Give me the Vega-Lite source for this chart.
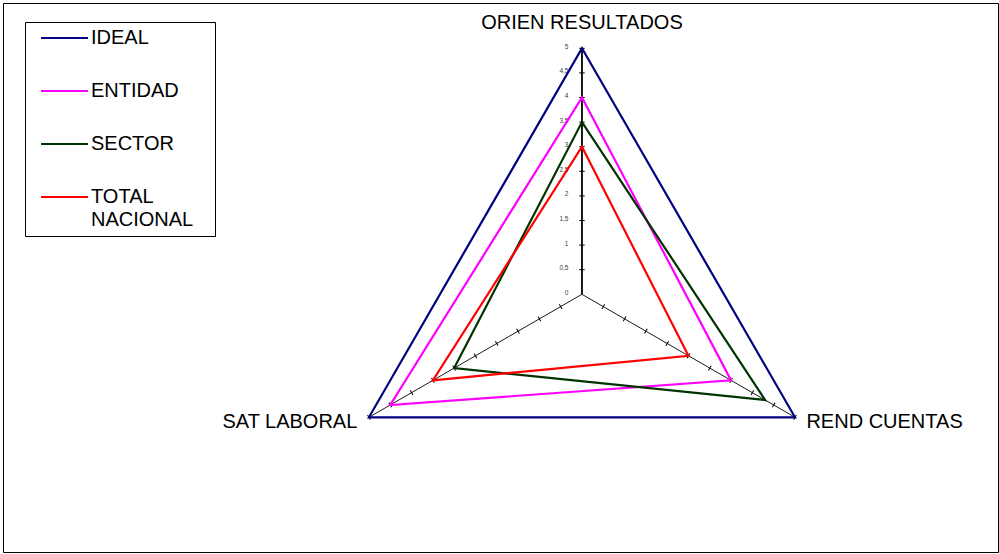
{
  "$schema": "https://vega.github.io/schema/vega-lite/v6.json",
  "width": 995,
  "height": 549,
  "autosize": {"type": "none"},
  "padding": {"left": 3, "top": 3, "right": 1, "bottom": 2},
  "background": "white",
  "config": {
    "view": {"stroke": "#000000", "strokeWidth": 1},
    "font": "Liberation Sans",
    "locale": {"number": {"decimal": ",", "thousands": ".", "grouping": [3], "currency": ["", " €"]}},
    "style": {"guide-label": {"lineHeight": 23}}
  },
  "datasets": {
    "scores": [
      {"series": "IDEAL", "axis": "ORIEN RESULTADOS", "value": 5},
      {"series": "IDEAL", "axis": "REND CUENTAS", "value": 5},
      {"series": "IDEAL", "axis": "SAT LABORAL", "value": 5},
      {"series": "ENTIDAD", "axis": "ORIEN RESULTADOS", "value": 4},
      {"series": "ENTIDAD", "axis": "REND CUENTAS", "value": 3.5},
      {"series": "ENTIDAD", "axis": "SAT LABORAL", "value": 4.5},
      {"series": "SECTOR", "axis": "ORIEN RESULTADOS", "value": 3.5},
      {"series": "SECTOR", "axis": "REND CUENTAS", "value": 4.3},
      {"series": "SECTOR", "axis": "SAT LABORAL", "value": 3},
      {"series": "TOTAL NACIONAL", "axis": "ORIEN RESULTADOS", "value": 3},
      {"series": "TOTAL NACIONAL", "axis": "REND CUENTAS", "value": 2.5},
      {"series": "TOTAL NACIONAL", "axis": "SAT LABORAL", "value": 3.5}
    ],
    "spokes": [
      {"axis": "ORIEN RESULTADOS", "value": 5},
      {"axis": "REND CUENTAS", "value": 5},
      {"axis": "SAT LABORAL", "value": 5}
    ],
    "ticks": [
      {"axis": "ORIEN RESULTADOS", "values": [0.5, 1, 1.5, 2, 2.5, 3, 3.5, 4, 4.5, 5]},
      {"axis": "REND CUENTAS", "values": [0.5, 1, 1.5, 2, 2.5, 3, 3.5, 4, 4.5, 5]},
      {"axis": "SAT LABORAL", "values": [0.5, 1, 1.5, 2, 2.5, 3, 3.5, 4, 4.5, 5]}
    ],
    "scaleLabels": [
      {"value": 0}, {"value": 0.5}, {"value": 1}, {"value": 1.5}, {"value": 2}, {"value": 2.5},
      {"value": 3}, {"value": 3.5}, {"value": 4}, {"value": 4.5}, {"value": 5}
    ]
  },
  "layer": [
    {
      "data": {"name": "spokes"},
      "transform": [
        {"calculate": "indexof(['ORIEN RESULTADOS','REND CUENTAS','SAT LABORAL'], datum.axis)", "as": "k"},
        {"calculate": "PI/2 - datum.k*2*PI/3", "as": "ang"},
        {"calculate": "datum.value*cos(datum.ang)", "as": "px"},
        {"calculate": "datum.value*sin(datum.ang)", "as": "py"}
      ],
      "mark": {"type": "rule", "color": "#000000"},
      "encoding": {
        "x": {"field": "px", "type": "quantitative", "scale": {"domain": [-11.768, 8.456], "nice": false, "zero": false}, "axis": null},
        "y": {"field": "py", "type": "quantitative", "scale": {"domain": [-5.238, 5.921], "nice": false, "zero": false}, "axis": null},
        "x2": {"datum": 0},
        "y2": {"datum": 0},
        "strokeWidth": {"condition": {"test": "datum.axis == 'ORIEN RESULTADOS'", "value": 1.8}, "value": 0.9}
      }
    },
    {
      "data": {"name": "ticks"},
      "transform": [
        {"flatten": ["values"], "as": ["value"]},
        {"calculate": "indexof(['ORIEN RESULTADOS','REND CUENTAS','SAT LABORAL'], datum.axis)", "as": "k"},
        {"calculate": "PI/2 - datum.k*2*PI/3", "as": "ang"},
        {"calculate": "datum.value*cos(datum.ang)", "as": "px"},
        {"calculate": "datum.value*sin(datum.ang)", "as": "py"},
        {"calculate": "datum.k*120", "as": "ta"}
      ],
      "mark": {"type": "point", "shape": "stroke", "size": 30, "filled": false, "stroke": "#000000", "strokeWidth": 1, "opacity": 1},
      "encoding": {
        "x": {"field": "px", "type": "quantitative", "scale": {"domain": [-11.768, 8.456], "nice": false, "zero": false}, "axis": null},
        "y": {"field": "py", "type": "quantitative", "scale": {"domain": [-5.238, 5.921], "nice": false, "zero": false}, "axis": null},
        "angle": {"field": "ta", "type": "quantitative", "scale": null}
      }
    },
    {
      "data": {"name": "scaleLabels"},
      "transform": [{"calculate": "0", "as": "px"}],
      "mark": {"type": "text", "align": "right", "baseline": "middle", "dx": -13.5, "dy": -1.5, "fontSize": 6.5, "color": "#404040"},
      "encoding": {
        "x": {"field": "px", "type": "quantitative", "scale": {"domain": [-11.768, 8.456], "nice": false, "zero": false}, "axis": null},
        "y": {"field": "value", "type": "quantitative", "scale": {"domain": [-5.238, 5.921], "nice": false, "zero": false}, "axis": null},
        "text": {"field": "value", "type": "quantitative", "format": "~g"}
      }
    },
    {
      "data": {"name": "scores"},
      "transform": [
        {"calculate": "indexof(['ORIEN RESULTADOS','REND CUENTAS','SAT LABORAL'], datum.axis)", "as": "k"},
        {"calculate": "PI/2 - datum.k*2*PI/3", "as": "ang"},
        {"calculate": "datum.value*cos(datum.ang)", "as": "px"},
        {"calculate": "datum.value*sin(datum.ang)", "as": "py"}
      ],
      "mark": {"type": "line", "interpolate": "linear-closed", "strokeWidth": 2.2},
      "encoding": {
        "x": {"field": "px", "type": "quantitative", "scale": {"domain": [-11.768, 8.456], "nice": false, "zero": false}, "axis": null},
        "y": {"field": "py", "type": "quantitative", "scale": {"domain": [-5.238, 5.921], "nice": false, "zero": false}, "axis": null},
        "order": {"field": "k", "type": "quantitative"},
        "color": {
          "field": "series",
          "type": "nominal",
          "scale": {"domain": ["IDEAL", "ENTIDAD", "SECTOR", "TOTAL NACIONAL"], "range": ["#000080", "#FF00FF", "#003300", "#FF0000"]},
          "legend": {
            "orient": "none",
            "legendX": 22,
            "legendY": 19,
            "title": null,
            "padding": 6,
            "strokeColor": "#000000",
            "fillColor": "#FFFFFF",
            "symbolType": "stroke",
            "symbolSize": 2209,
            "symbolStrokeWidth": 2,
            "symbolOffset": 9,
            "labelOffset": 2,
            "labelFont": "Liberation Sans",
            "labelFontSize": 20,
            "labelColor": "#000000",
            "labelLimit": 400,
            "clipHeight": 20,
            "rowPadding": 33,
            "labelExpr": "datum.label == 'TOTAL NACIONAL' ? ['TOTAL', 'NACIONAL\u2800'] : datum.label"
          }
        }
      }
    },
    {
      "data": {"name": "spokes"},
      "transform": [
        {"calculate": "indexof(['ORIEN RESULTADOS','REND CUENTAS','SAT LABORAL'], datum.axis)", "as": "k"},
        {"calculate": "PI/2 - datum.k*2*PI/3", "as": "ang"},
        {"calculate": "datum.value*cos(datum.ang)", "as": "px"},
        {"calculate": "datum.value*sin(datum.ang)", "as": "py"}
      ],
      "layer": [
        {
          "transform": [{"filter": "datum.axis == 'ORIEN RESULTADOS'"}],
          "mark": {"type": "text", "align": "center", "baseline": "alphabetic", "dy": -19.3, "fontSize": 20, "color": "#000000"},
          "encoding": {
            "x": {"field": "px", "type": "quantitative", "scale": {"domain": [-11.768, 8.456], "nice": false, "zero": false}, "axis": null},
            "y": {"field": "py", "type": "quantitative", "scale": {"domain": [-5.238, 5.921], "nice": false, "zero": false}, "axis": null},
            "text": {"field": "axis", "type": "nominal"}
          }
        },
        {
          "transform": [{"filter": "datum.axis == 'REND CUENTAS'"}],
          "mark": {"type": "text", "align": "left", "baseline": "alphabetic", "dx": 11.4, "dy": 11, "fontSize": 20, "color": "#000000"},
          "encoding": {
            "x": {"field": "px", "type": "quantitative", "scale": {"domain": [-11.768, 8.456], "nice": false, "zero": false}, "axis": null},
            "y": {"field": "py", "type": "quantitative", "scale": {"domain": [-5.238, 5.921], "nice": false, "zero": false}, "axis": null},
            "text": {"field": "axis", "type": "nominal"}
          }
        },
        {
          "transform": [{"filter": "datum.axis == 'SAT LABORAL'"}],
          "mark": {"type": "text", "align": "right", "baseline": "alphabetic", "dx": -11.6, "dy": 11, "fontSize": 20, "color": "#000000"},
          "encoding": {
            "x": {"field": "px", "type": "quantitative", "scale": {"domain": [-11.768, 8.456], "nice": false, "zero": false}, "axis": null},
            "y": {"field": "py", "type": "quantitative", "scale": {"domain": [-5.238, 5.921], "nice": false, "zero": false}, "axis": null},
            "text": {"field": "axis", "type": "nominal"}
          }
        }
      ]
    }
  ]
}
